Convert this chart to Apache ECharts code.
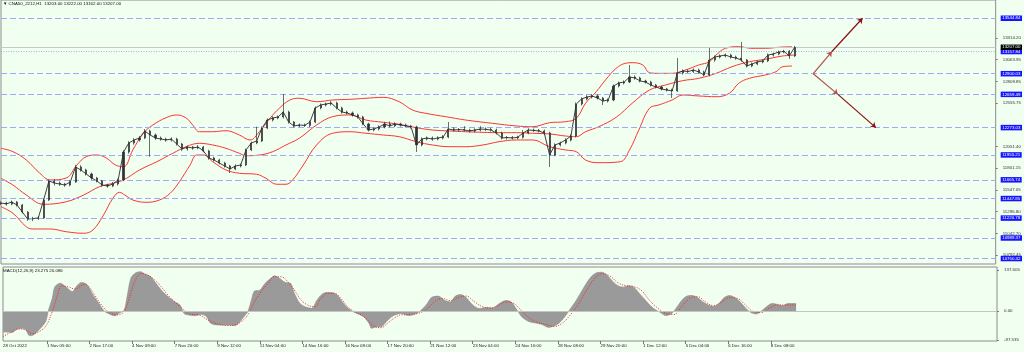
<!DOCTYPE html>
<html><head><meta charset="utf-8">
<script src="https://cdn.jsdelivr.net/npm/echarts@6/dist/echarts.min.js"></script>
<style>html,body{margin:0;padding:0;background:#f0fff0;}#c{width:1024px;height:352px;}</style>
</head><body><div id="c"></div><script>
// ---------- DATA ----------
const headerText = '\u25BC CNA50_2212,H1  13203.00 13222.00 13162.00 13207.00';
const macdTitle = 'MACD(12,26,9) 23.275 20.086';

const xTickBars = [0,33,65,97,129,161,193,225,257,289,321,353,385,417,449,481,513,545,577];
const xTickLabels = ['28 Oct 2022','1 Nov 05:00','2 Nov 17:00','4 Nov 09:00','7 Nov 20:00','9 Nov 12:00','11 Nov 04:00','14 Nov 16:00','16 Nov 08:00','17 Nov 20:00','21 Nov 12:00','23 Nov 04:00','24 Nov 16:00','28 Nov 08:00','29 Nov 20:00','1 Dec 12:00','5 Dec 04:00','6 Dec 16:00','8 Dec 08:00'];

const priceTicks = [13314.20,13063.95,12809.85,12555.75,12051.40,11801.15,11547.05,11296.80,11042.70,10792.45];
const levelValues = [13544.84,12900.03,12659.49,12273.03,11955.21,11665.74,11447.85,11220.78,10989.37,10750.32];
const dottedLevel = 13157.84;
const lastPrice = 13207.00;

const macdTicks = [137.605, 0, -97.535];
const macdTickLabels = ['137.605','0.00','-97.535'];

// candles: one candle every 4 H1 bars
const candleStep = 4;
const firstOpen = 11390;
const priceClose = [11396,11385,11408,11373,11291,11210,11215,11222,11431,11652,
11629,11617,11605,11640,11815,11780,11733,11687,11652,11605,
11594,11617,11664,11989,12094,12129,12152,12234,12187,12152,
12140,12129,12140,12082,12024,12047,12036,12047,12001,11920,
11896,11861,11826,11792,11826,11838,12013,12094,12117,12268,
12361,12385,12396,12454,12338,12292,12303,12298,12338,12501,
12536,12547,12559,12501,12454,12443,12420,12396,12315,12245,
12257,12280,12315,12292,12315,12303,12292,12280,12071,12140,
12152,12140,12152,12164,12257,12245,12250,12245,12234,12245,
12257,12252,12245,12210,12152,12158,12152,12160,12210,12245,
12240,12234,12210,11954,12071,12094,12129,12175,12547,12606,
12629,12641,12617,12582,12594,12757,12792,12803,12862,12850,
12815,12803,12768,12745,12722,12710,12700,12908,12931,12925,
12943,12920,12885,13059,13094,13106,13117,13094,13082,13059,
12989,13013,13036,13048,13117,13129,13152,13160,13106,13207];
const priceLow = [11372,11366,11370,11355,11275,11190,11185,11200,11210,11420,
11600,11595,11585,11590,11630,11760,11715,11665,11635,11585,
11575,11580,11600,11650,11970,12075,12110,12140,11935,12130,
12120,12110,12110,12065,12000,12005,12015,12020,11985,11900,
11878,11845,11808,11745,11778,11810,11825,12000,12080,12105,
12255,12345,12370,12380,12320,12275,12280,12280,12280,12325,
12485,12520,12530,12485,12435,12425,12400,12378,12300,12228,
12230,12240,12265,12275,12278,12285,12275,12262,11989,12055,
12125,12120,12125,12135,12150,12228,12228,12228,12215,12215,
12230,12235,12228,12192,12135,12135,12135,12138,12145,12195,
12222,12215,12190,11815,11940,12055,12078,12112,12160,12530,
12590,12612,12600,12536,12565,12580,12740,12775,12790,12830,
12798,12785,12750,12728,12705,12692,12617,12688,12890,12908,
12908,12902,12868,12870,13040,13078,13090,13075,13062,13040,
12972,12975,12998,13020,13035,13100,13115,13138,13071,13095];
const priceHigh = [11415,11410,11425,11420,11385,11300,11235,11245,11450,11670,
11675,11645,11630,11660,11840,11835,11795,11750,11700,11665,
11620,11640,11680,12010,12115,12150,12175,12255,12250,12205,
12170,12155,12160,12155,12095,12065,12060,12070,12060,12015,
11935,11910,11875,11840,11845,11855,12030,12110,12284,12285,
12380,12405,12415,12664,12470,12350,12320,12320,12355,12520,
12555,12565,12580,12575,12515,12470,12460,12435,12410,12330,
12275,12300,12340,12345,12335,12330,12320,12305,12295,12160,
12170,12170,12172,12185,12338,12275,12268,12290,12260,12265,
12290,12275,12270,12262,12225,12175,12175,12178,12245,12265,
12262,12258,12250,12225,12090,12110,12148,12195,12565,12625,
12650,12662,12660,12630,12612,12775,12810,12822,13001,12880,
12865,12830,12818,12780,12760,12735,12725,13082,12950,12948,
12960,12958,12935,13199,13112,13125,13135,13132,13110,13269,
13072,13030,13052,13065,13135,13145,13170,13178,13175,13222];

// Bollinger bands (20,2) : [H1 bar index, value]
const bbUpper = [[0,12032],[9,11993],[19,11896],[29,11745],[37,11664],[49,11687],[57,11838],[64,11935],[72,11954],[79,11920],[86,11838],[92,11818],[99,12013],[107,12210],[114,12303],[124,12388],[132,12420],[139,12385],[144,12303],[149,12225],[159,12225],[169,12237],[179,12187],[187,12129],[194,12225],[202,12381],[209,12498],[217,12594],[224,12614],[237,12574],[249,12594],[262,12602],[274,12614],[287,12625],[299,12574],[309,12478],[319,12439],[334,12400],[349,12361],[369,12323],[387,12292],[399,12283],[412,12330],[424,12342],[432,12381],[439,12556],[447,12690],[454,12827],[462,12963],[469,13021],[474,13028],[482,13001],[487,12911],[494,12904],[504,12904],[514,12943],[524,13001],[532,13039],[537,13117],[544,13195],[554,13214],[564,13195],[574,13195],[584,13207],[594,13214]];
const bbMiddle = [[0,11683],[9,11605],[19,11489],[32,11381],[49,11411],[62,11489],[74,11586],[84,11625],[92,11664],[104,11780],[117,11876],[129,11974],[139,12051],[149,12090],[159,12071],[169,12032],[179,11974],[184,11946],[194,11954],[204,11993],[214,12071],[224,12149],[237,12303],[249,12400],[262,12420],[274,12361],[287,12335],[299,12311],[312,12272],[324,12245],[337,12234],[349,12225],[362,12218],[374,12214],[387,12214],[399,12207],[412,12199],[424,12175],[432,12167],[439,12225],[449,12284],[462,12393],[474,12556],[487,12710],[499,12768],[512,12819],[524,12846],[537,12904],[549,12981],[562,13039],[574,13067],[587,13106],[596,13117]];
const bbLower = [[0,11353],[9,11276],[19,11120],[24,11094],[37,11094],[49,11062],[62,11044],[69,11082],[77,11257],[84,11451],[89,11520],[93,11489],[99,11431],[109,11404],[119,11431],[127,11509],[134,11644],[142,11838],[147,11954],[152,11954],[159,11876],[169,11780],[179,11742],[192,11730],[199,11683],[207,11614],[214,11614],[219,11664],[227,11838],[237,12071],[249,12207],[262,12225],[274,12207],[287,12187],[299,12167],[312,12109],[324,12071],[337,12051],[349,12051],[362,12071],[374,12109],[387,12129],[399,12129],[412,12051],[424,12013],[432,11993],[439,11896],[449,11865],[465,11876],[472,12013],[479,12245],[487,12498],[494,12536],[504,12594],[512,12652],[524,12641],[537,12632],[547,12672],[554,12788],[562,12846],[574,12885],[582,12923],[587,12981],[594,12989]];

// MACD (12,26,9): main histogram and signal, [bar, value]
const macdMain = [[0,-70],[7,-72],[10,-62],[14,-58],[17,-62],[20,-83],[23,-80],[27,-63],[32,-36],[34,0],[37,42],[39,81],[43,93],[47,82],[52,65],[56,87],[59,96],[63,89],[67,59],[72,26],[76,0],[79,-8],[84,-16],[87,-8],[91,3],[93,42],[96,109],[99,126],[103,132],[107,123],[111,115],[114,98],[119,70],[124,48],[129,31],[133,20],[136,-8],[139,-13],[144,-16],[149,-11],[153,-19],[156,-41],[162,-47],[170,-47],[174,-49],[177,-41],[181,-19],[184,-2],[187,42],[189,67],[193,70],[197,93],[201,109],[204,118],[208,109],[212,96],[216,93],[219,59],[223,26],[227,14],[232,9],[236,37],[240,57],[243,62],[247,62],[251,54],[254,37],[258,14],[262,0],[266,-8],[271,-19],[275,-41],[277,-58],[281,-53],[284,-53],[288,-36],[292,-19],[296,-11],[299,-8],
[305,-15],[312,-5],[318,20],[322,45],[327,50],[332,35],[336,30],[340,50],[344,55],[348,45],[353,20],[358,8],[363,12],[368,10],[373,25],[378,35],[382,30],[386,5],[390,-20],[395,-35],[400,-40],[405,-45],[410,-55],[414,-50],[418,-40],[422,-20],[426,5],[430,30],[434,60],[438,90],[442,115],[446,128],[450,130],[454,120],[458,100],[462,85],[466,80],[470,85],[474,80],[478,60],[482,40],[486,20],[490,5],[494,-5],[498,-15],[502,-10],[506,10],[510,35],[514,50],[518,52],[522,45],[526,30],[530,20],[534,15],[538,25],[542,45],[546,52],[550,45],[554,30],[558,10],[562,-5],[566,-10],[570,0],[574,15],[578,25],[582,22],[586,18],[590,25],[596,25]];
const macdSignal = [[0,-86],[7,-69],[12,-60],[17,-64],[22,-76],[27,-69],[32,-52],[37,-2],[41,53],[44,84],[49,81],[54,74],[61,89],[64,84],[69,53],[74,20],[79,-2],[86,-13],[91,-2],[94,31],[99,98],[104,126],[109,120],[114,104],[119,81],[124,53],[129,31],[136,3],[141,-11],[147,-13],[154,-30],[162,-44],[169,-49],[174,-47],[179,-36],[184,-13],[189,31],[194,65],[199,92],[204,115],[209,115],[214,98],[219,70],[224,37],[229,20],[234,14],[239,42],[244,59],[249,59],[254,42],[259,14],[264,-2],[269,-13],[274,-30],[279,-52],[284,-56],[289,-41],[294,-24],[299,-13],
[305,-12],[312,-8],[318,5],[324,30],[330,42],[336,35],[342,45],[348,50],[354,32],[360,15],[366,10],[372,18],[378,30],[384,25],[390,0],[396,-25],[402,-38],[408,-45],[414,-52],[420,-42],[426,-15],[432,20],[438,65],[444,105],[450,125],[456,118],[462,95],[468,85],[474,82],[480,68],[486,35],[492,10],[498,-8],[504,-12],[510,15],[516,42],[522,48],[528,30],[534,18],[540,30],[546,45],[552,42],[558,20],[564,-2],[570,-5],[576,10],[582,20],[590,20],[596,20]];

// projection arrows: origin, then [mid, end] for up and down scenario
const projOrigin = [610, 12900.03];
const projUp = [[624, 13157.84],[647, 13544.84]];
const projDown = [[628.5, 12659.49],[657, 12273.03]];

// ---------- CHART ----------
const FONT = '"Liberation Sans", Arial, sans-serif';
const FS = 4.4;
const candleRows = priceClose.map((c, i) => [i * candleStep, i === 0 ? firstOpen : priceClose[i - 1], c, priceLow[i], priceHigh[i]]);
const closeLine = priceClose.map((c, i) => [i * candleStep, c]);

const levelLabel = (bg) => ({show: true, position: 'end', distance: 5, backgroundColor: bg, color: '#fff',
  fontSize: FS, fontFamily: FONT, padding: [1, 1.5, 0.5, 1.5], formatter: p => Number(p.value).toFixed(2)});
const levelData = levelValues.map(v => ({yAxis: v, lineStyle: {color: '#9fa9f7', type: [6, 3], width: 1}, label: levelLabel('#1414ff')}));
levelData.push({yAxis: dottedLevel, lineStyle: {color: '#8d98f5', type: [1, 1.5], width: 0.8}, label: levelLabel('#1414ff')});
levelData.push({yAxis: lastPrice, lineStyle: {color: '#c8c8c8', type: 'solid', width: 1}, label: levelLabel('#000000')});

const arrowSeg = (a, b, col) => [{coord: a, lineStyle: {color: col, width: 1.2, type: 'solid'}}, {coord: b}];
const arrowData = [
  arrowSeg(projOrigin, projUp[0], '#b05050'), arrowSeg(projUp[0], projUp[1], '#8b0f0f'),
  arrowSeg(projOrigin, projDown[0], '#b05050'), arrowSeg(projDown[0], projDown[1], '#8b0f0f')
];

const chart = echarts.init(document.getElementById('c'), null, {renderer: 'canvas'});
chart.setOption({
  animation: false,
  backgroundColor: '#f0fff0',
  textStyle: {fontFamily: FONT},
  title: [
    {text: headerText, left: 3, top: 2, padding: 0, textStyle: {fontSize: FS, fontWeight: 'normal', color: '#111', fontFamily: FONT}},
    {text: macdTitle, left: 3, top: 269, padding: 0, textStyle: {fontSize: FS, fontWeight: 'normal', color: '#111', fontFamily: FONT}}
  ],
  grid: [
    {left: 1, top: 0, width: 996, height: 264, show: true, borderColor: '#8c8c8c', borderWidth: 1, backgroundColor: 'transparent'},
    {left: 1, top: 267, width: 996, height: 74, show: true, borderColor: '#8c8c8c', borderWidth: 1, backgroundColor: 'transparent'}
  ],
  xAxis: [
    {gridIndex: 0, type: 'value', min: 0, max: 747, show: false, axisLine: {onZero: false}},
    {gridIndex: 1, type: 'value', min: 0, max: 747,
      axisLine: {show: false, onZero: false}, splitLine: {show: false},
      axisTick: {show: true, customValues: xTickBars.slice(1), length: 3, lineStyle: {color: '#555', width: 0.8}},
      axisLabel: {customValues: xTickBars, align: 'left', margin: 2.5, fontSize: FS, color: '#222', fontFamily: FONT,
        formatter: v => xTickLabels[xTickBars.indexOf(Math.round(v))] || ''}}
  ],
  yAxis: [
    {gridIndex: 0, type: 'value', position: 'right', min: 10686.7, max: 13757, splitLine: {show: false},
      axisLine: {show: false, onZero: false},
      axisTick: {show: true, customValues: priceTicks, length: 2, lineStyle: {color: '#777'}},
      axisLabel: {customValues: priceTicks, margin: 7, fontSize: FS, color: '#333', fontFamily: FONT, formatter: v => Number(v).toFixed(2)}},
    {gridIndex: 1, type: 'value', position: 'right', min: -100.7, max: 147.7, splitLine: {show: false},
      axisLine: {show: false, onZero: false},
      axisTick: {show: true, customValues: macdTicks, length: 2, lineStyle: {color: '#777'}},
      axisLabel: {customValues: macdTicks, margin: 7, fontSize: FS, color: '#333', fontFamily: FONT,
        formatter: v => macdTickLabels[macdTicks.findIndex(t => Math.abs(t - v) < 0.01)] || ''}}
  ],
  series: [
    {name: 'levels', type: 'line', xAxisIndex: 0, yAxisIndex: 0, data: [], z: 1,
      markLine: {silent: true, symbol: 'none', animation: false, data: levelData}},
    {name: 'bbUpper', type: 'line', data: bbUpper, smooth: 0.4, symbol: 'none', z: 3, lineStyle: {color: '#ff3434', width: 1}},
    {name: 'bbMiddle', type: 'line', data: bbMiddle, smooth: 0.4, symbol: 'none', z: 3, lineStyle: {color: '#ff3434', width: 1}},
    {name: 'bbLower', type: 'line', data: bbLower, smooth: 0.4, symbol: 'none', z: 3, lineStyle: {color: '#ff3434', width: 1}},
    {name: 'closeLine', type: 'line', data: closeLine, symbol: 'none', z: 4, lineStyle: {color: '#404040', width: 1}},
    {name: 'price', type: 'candlestick', data: candleRows, encode: {x: 0, y: [1, 2, 3, 4]}, barWidth: 1.6, z: 5,
      itemStyle: {color: '#303030', color0: '#303030', borderColor: '#303030', borderColor0: '#303030', borderWidth: 0.7}},
    {name: 'projection', type: 'line', data: [], z: 6,
      markLine: {silent: true, symbol: ['none', 'arrow'], symbolSize: 5, animation: false, label: {show: false},
        itemStyle: {color: '#8b0f0f'}, data: arrowData}},
    {name: 'macd', type: 'line', xAxisIndex: 1, yAxisIndex: 1, data: macdMain, smooth: 0.3, symbol: 'none', z: 3,
      lineStyle: {width: 0.6, color: '#8a8a8a'}, areaStyle: {color: '#9a9a9a', opacity: 1},
      markLine: {silent: true, symbol: 'none', label: {show: false}, data: [{yAxis: 0}], lineStyle: {color: '#c4c4c4', type: 'solid', width: 1}}},
    {name: 'signal', type: 'line', xAxisIndex: 1, yAxisIndex: 1, data: macdSignal, smooth: 0.4, symbol: 'none', z: 4,
      lineStyle: {color: '#ff2020', width: 1, type: [1, 1.5]}}
  ]
});
</script></body></html>
